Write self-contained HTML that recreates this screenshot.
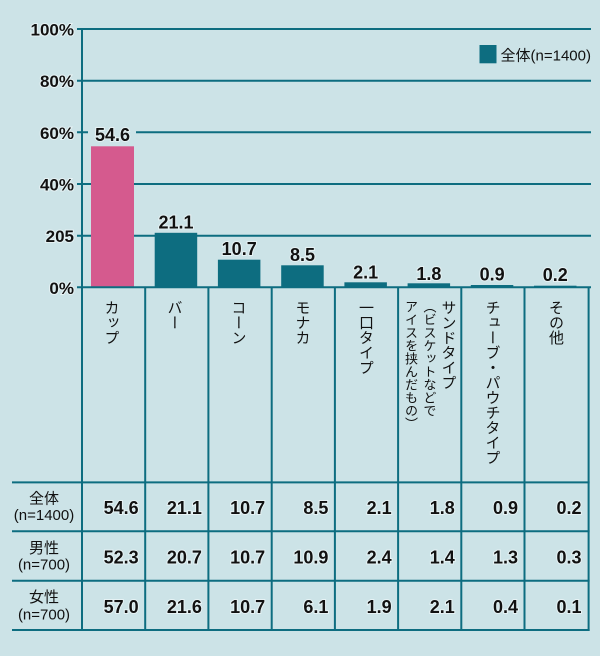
<!DOCTYPE html>
<html>
<head>
<meta charset="utf-8">
<style>
html,body{margin:0;padding:0;}
body{width:600px;height:656px;background:#cce3e7;position:relative;overflow:hidden;}
svg{position:absolute;left:0;top:0;}
.v{position:absolute;writing-mode:vertical-rl;font-family:"Noto Sans CJK JP","Liberation Sans",sans-serif;font-size:15px;line-height:19px;width:19px;top:300px;color:#111;white-space:nowrap;}
.v13{font-size:13px;}
</style>
</head>
<body>
<svg width="600" height="656" viewBox="0 0 600 656" xmlns="http://www.w3.org/2000/svg">
<rect x="0" y="0" width="600" height="656" fill="#cce3e7"/>
<!-- gridlines -->
<g stroke="#0d6d80" stroke-width="2">
<line x1="77" y1="29" x2="591" y2="29"/>
<line x1="77" y1="80.7" x2="591" y2="80.7"/>
<line x1="77" y1="132.3" x2="591" y2="132.3"/>
<line x1="77" y1="184" x2="591" y2="184"/>
<line x1="77" y1="235.7" x2="591" y2="235.7"/>
</g>
<!-- label background for 54.6 -->
<rect x="88" y="126" width="48" height="14" fill="#cce3e7"/>
<!-- bars -->
<rect x="91" y="146.3" width="43" height="141" fill="#d55a8e"/>
<g fill="#0d6d80">
<rect x="154.7" y="232.8" width="42.5" height="54.5"/>
<rect x="217.9" y="259.7" width="42.5" height="27.6"/>
<rect x="281.2" y="265.3" width="42.5" height="22"/>
<rect x="344.4" y="282.3" width="42.5" height="5"/>
<rect x="407.6" y="283.3" width="42.5" height="4"/>
<rect x="470.8" y="285" width="42.5" height="2.3"/>
<rect x="534" y="285.7" width="42.5" height="1.6"/>
</g>
<!-- axis / table lines -->
<g stroke="#0d6d80" stroke-width="2">
<line x1="77" y1="287.3" x2="591" y2="287.3"/>
<line x1="82" y1="28" x2="82" y2="631"/>
<line x1="145.2" y1="287" x2="145.2" y2="631"/>
<line x1="208.4" y1="287" x2="208.4" y2="631"/>
<line x1="271.7" y1="287" x2="271.7" y2="631"/>
<line x1="334.9" y1="287" x2="334.9" y2="631"/>
<line x1="398.1" y1="287" x2="398.1" y2="631"/>
<line x1="461.3" y1="287" x2="461.3" y2="631"/>
<line x1="524.5" y1="287" x2="524.5" y2="631"/>
<line x1="588.6" y1="287" x2="588.6" y2="631"/>
<line x1="12" y1="482.4" x2="589.6" y2="482.4"/>
<line x1="12" y1="531.2" x2="589.6" y2="531.2"/>
<line x1="12" y1="580.7" x2="589.6" y2="580.7"/>
<line x1="12" y1="630" x2="589.6" y2="630"/>
</g>
<!-- y labels -->
<g font-family="Liberation Sans, sans-serif" font-weight="bold" font-size="17" fill="#111" text-anchor="end" stroke="#e6f2f4" stroke-width="2" paint-order="stroke">
<text x="74" y="35.5">100%</text>
<text x="74" y="87.2">80%</text>
<text x="74" y="138.8">60%</text>
<text x="74" y="190.5">40%</text>
<text x="74" y="242.2">205</text>
<text x="74" y="293.8">0%</text>
</g>
<!-- value labels -->
<g font-family="Liberation Sans, sans-serif" font-weight="bold" font-size="18" fill="#111" text-anchor="middle" stroke="#e6f2f4" stroke-width="2" paint-order="stroke">
<text x="112.5" y="141">54.6</text>
<text x="176" y="228.3">21.1</text>
<text x="239.2" y="255">10.7</text>
<text x="302.5" y="261">8.5</text>
<text x="365.7" y="278.3">2.1</text>
<text x="428.9" y="280">1.8</text>
<text x="492.1" y="280.5">0.9</text>
<text x="555.3" y="281">0.2</text>
</g>
<!-- legend -->
<rect x="479.5" y="45" width="17" height="18.3" fill="#0d6d80"/>
<text x="500.5" y="60.5" font-family="Liberation Sans, Noto Sans CJK JP, sans-serif" font-size="15" fill="#111">全体(n=1400)</text>
<!-- row headers -->
<g font-family="Liberation Sans, Noto Sans CJK JP, sans-serif" font-size="15" fill="#111" text-anchor="middle">
<text x="44" y="503.5">全体</text>
<text x="44" y="519.8">(n=1400)</text>
<text x="44" y="553">男性</text>
<text x="44" y="569.6">(n=700)</text>
<text x="44" y="602">女性</text>
<text x="44" y="619.6">(n=700)</text>
</g>
<!-- table values -->
<g font-family="Liberation Sans, sans-serif" font-weight="bold" font-size="18" fill="#111" text-anchor="end" stroke="#e6f2f4" stroke-width="2" paint-order="stroke">
<text x="138.7" y="514">54.6</text>
<text x="201.9" y="514">21.1</text>
<text x="265.2" y="514">10.7</text>
<text x="328.4" y="514">8.5</text>
<text x="391.6" y="514">2.1</text>
<text x="454.8" y="514">1.8</text>
<text x="518" y="514">0.9</text>
<text x="581.5" y="514">0.2</text>

<text x="138.7" y="563.5">52.3</text>
<text x="201.9" y="563.5">20.7</text>
<text x="265.2" y="563.5">10.7</text>
<text x="328.4" y="563.5">10.9</text>
<text x="391.6" y="563.5">2.4</text>
<text x="454.8" y="563.5">1.4</text>
<text x="518" y="563.5">1.3</text>
<text x="581.5" y="563.5">0.3</text>

<text x="138.7" y="613">57.0</text>
<text x="201.9" y="613">21.6</text>
<text x="265.2" y="613">10.7</text>
<text x="328.4" y="613">6.1</text>
<text x="391.6" y="613">1.9</text>
<text x="454.8" y="613">2.1</text>
<text x="518" y="613">0.4</text>
<text x="581.5" y="613">0.1</text>
</g>
</svg>
<!-- vertical category labels -->
<div class="v" style="left:102.5px;">カップ</div>
<div class="v" style="left:165.5px;">バー</div>
<div class="v" style="left:229.5px;">コーン</div>
<div class="v" style="left:293.5px;">モナカ</div>
<div class="v" style="left:357px;">一口タイプ</div>
<div class="v" style="left:439.5px;">サンドタイプ</div>
<div class="v v13" style="left:420.5px;">（ビスケットなどで</div>
<div class="v v13" style="left:402px;">アイスを挟んだもの）</div>
<div class="v" style="left:483.5px;">チューブ・パウチタイプ</div>
<div class="v" style="left:547px;">その他</div>
</body>
</html>
